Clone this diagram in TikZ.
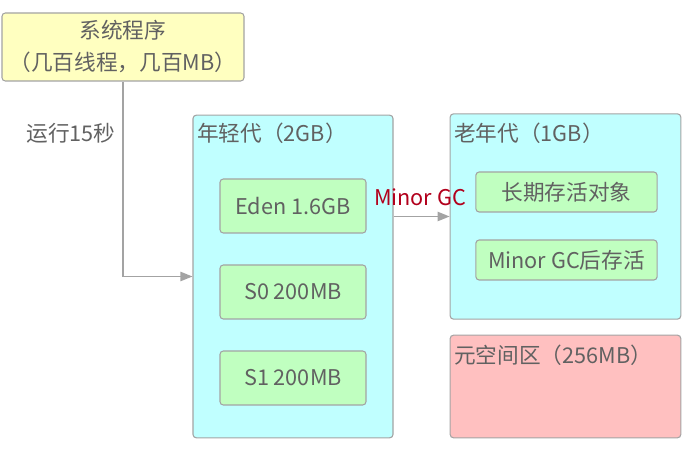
\documentclass[tikz,border=0pt]{standalone}
\usepackage{fontspec}
\setmainfont{Noto Sans CJK SC}
\usetikzlibrary{arrows.meta}
\definecolor{boxline}{HTML}{A3A3A3}
\definecolor{txtgray}{HTML}{616161}
\definecolor{sysfill}{HTML}{FFFFC0}
\definecolor{genfill}{HTML}{C0FFFF}
\definecolor{areafill}{HTML}{C0FFC0}
\definecolor{metafill}{HTML}{FFC0C0}
\definecolor{gcred}{HTML}{B2001C}
\begin{document}
\begin{tikzpicture}[x=0.75pt,y=-0.75pt]
   \tikzstyle{box} = [rectangle, draw=boxline, line width=0.8pt, rounded corners=2.5pt, inner sep=0pt, text=txtgray, font=\fontsize{16.25}{24}\selectfont, align=center]
   \tikzstyle{title} = [anchor=west, inner sep=0pt, text=txtgray, font=\fontsize{16.25}{19}\selectfont]
   \tikzstyle{link} = [draw=boxline, line width=1pt, -{Triangle[length=9pt,width=7pt]}]

   \useasboundingbox (0,0) rectangle (683,452);

      \draw
        (123, 47) node[box, fill=sysfill, minimum width=181.5pt, minimum height=51pt] (sys){系统程序\\（几百线程，几百MB）}
        (293, 276.5) node[box, fill=genfill, minimum width=150pt, minimum height=242pt] (young){}
        (565.5, 216.5) node[box, fill=genfill, minimum width=173pt, minimum height=154pt] (old){}
        (565.5, 386.5) node[box, fill=metafill, minimum width=173pt, minimum height=77pt] (meta){}
        (293, 206) node[box, fill=areafill, minimum width=109.5pt, minimum height=40.5pt] (eden){Eden 1.6GB}
        (293, 292) node[box, fill=areafill, minimum width=109.5pt, minimum height=40.5pt] (s0){S0 200MB}
        (293, 378) node[box, fill=areafill, minimum width=109.5pt, minimum height=40.5pt] (s1){S1 200MB}
        (566.5, 192) node[box, fill=areafill, minimum width=136pt, minimum height=30pt] (tenured){长期存活对象}
        (566.5, 260) node[box, fill=areafill, minimum width=136pt, minimum height=30pt] (survived){Minor GC后存活};

      % titles of the areas
      \node[title] (youngtitle) at (197, 133) {年轻代（2GB）};
      \node[title] (oldtitle) at (454, 133) {老年代（1GB）};
      \node[title] (metatitle) at (454, 355) {元空间区（256MB）};

      \node[title, anchor=center] (runlabel) at (71, 133) {运行15秒};
      \node[title, anchor=center, text=gcred] (gclabel) at (420, 197) {Minor GC};

  \begin{scope}
    \draw[link] (sys.south) |- (young.west);
    \draw[link] (young.east |- old.west) -- (old.west);
  \end{scope}
\end{tikzpicture}
\end{document}
